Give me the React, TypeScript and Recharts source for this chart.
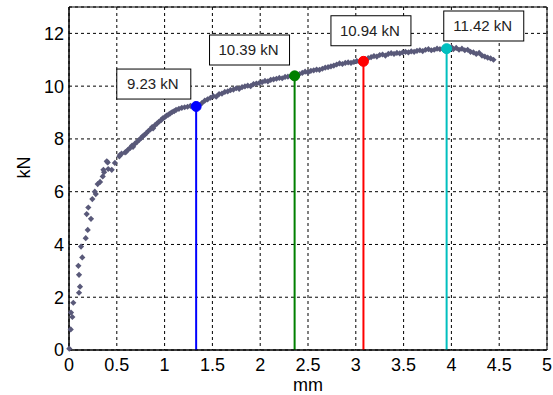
import React from "react";
import {
  ComposedChart,
  Scatter,
  XAxis,
  YAxis,
  CartesianGrid,
  ReferenceLine,
  ReferenceDot,
  ReferenceArea,
} from "recharts";

// measured curve (mm, kN)
const dispMm = [
  0.003, 0.018, 0.021, 0.035, 0.045, 0.105, 0.115, 0.105, 0.098, 0.139, 0.126, 0.175, 0.196, 0.23, 0.185,
  0.202, 0.244, 0.28, 0.27, 0.3, 0.325, 0.353, 0.367, 0.41, 0.405, 0.447, 0.48, 0.527, 0.55, 0.587,
  0.36, 0.395, 0.535,
  0.6, 0.62, 0.64, 0.66, 0.67, 0.69, 0.71, 0.73, 0.75, 0.77, 0.79, 0.81, 0.83, 0.85, 0.87, 0.88, 0.9,
  0.92, 0.94, 0.96, 0.98, 1.0, 1.02, 1.04, 1.06, 1.08, 1.1, 1.12, 1.15, 1.18, 1.21, 1.24, 1.27, 1.3, 1.33,
  1.36, 1.39, 1.42, 1.45, 1.48, 1.51, 1.54, 1.57, 1.6, 1.63, 1.66, 1.69, 1.72, 1.75, 1.78, 1.81, 1.84,
  1.87, 1.9, 1.93, 1.96, 1.99, 2.02, 2.05, 2.08, 2.11, 2.14, 2.17, 2.2, 2.23, 2.26, 2.29, 2.32,
  2.38, 2.41, 2.44, 2.47, 2.5, 2.53, 2.56, 2.59, 2.62, 2.65, 2.68, 2.71, 2.74, 2.77, 2.8, 2.83, 2.86,
  2.89, 2.92, 2.95, 2.98, 3.01, 3.04,
  3.1, 3.13, 3.16, 3.19, 3.22, 3.25, 3.28, 3.31, 3.34, 3.37, 3.4, 3.43, 3.46, 3.49, 3.52, 3.55, 3.58,
  3.61, 3.64, 3.67, 3.7, 3.73, 3.76, 3.79, 3.82, 3.85, 3.88, 3.91, 3.97, 4.0, 4.02, 4.05, 4.08, 4.11,
  4.14, 4.17, 4.2, 4.23, 4.26, 4.29, 4.32, 4.35, 4.38, 4.41, 4.44,
];
const forceKn = [
  0.05, 0.78, 1.42, 1.25, 1.79, 2.17, 2.4, 2.85, 3.19, 3.51, 3.92, 4.24, 4.55, 4.97, 5.15,
  5.4, 5.72, 5.91, 6.0, 6.29, 6.37, 6.58, 6.74, 6.86, 7.11, 6.83, 7.09, 7.34, 7.44, 7.49,
  6.83, 7.15, 7.4,
  7.52, 7.6, 7.66, 7.75, 7.7, 7.82, 7.88, 7.95, 8.02, 8.1, 8.15, 8.22, 8.3, 8.36, 8.45, 8.4, 8.52,
  8.58, 8.65, 8.7, 8.78, 8.82, 8.88, 8.92, 8.97, 9.02, 9.05, 9.1, 9.14, 9.18, 9.2, 9.22, 9.25, 9.22, 9.23,
  9.28, 9.36, 9.45, 9.5, 9.56, 9.62, 9.6, 9.7, 9.72, 9.78, 9.8, 9.85, 9.87, 9.92, 9.9, 9.96, 9.99,
  10.02, 10.0, 10.08, 10.1, 10.12, 10.15, 10.2, 10.18, 10.24, 10.26, 10.28, 10.31, 10.3, 10.35, 10.36, 10.38,
  10.42, 10.46, 10.5, 10.55, 10.52, 10.58, 10.6, 10.63, 10.62, 10.66, 10.7, 10.72, 10.75, 10.78, 10.82, 10.86, 10.84,
  10.88, 10.9, 10.88, 10.92, 10.95, 10.93,
  11.02, 11.06, 11.1, 11.14, 11.12, 11.18, 11.2, 11.16, 11.22, 11.25, 11.22, 11.26, 11.24, 11.28, 11.3, 11.28, 11.32,
  11.3, 11.34, 11.36, 11.33, 11.38, 11.4, 11.36, 11.38, 11.42, 11.4, 11.41, 11.44, 11.48, 11.4, 11.45, 11.38, 11.42,
  11.36, 11.38, 11.3, 11.28, 11.22, 11.26, 11.16, 11.12, 11.08, 11.05, 11.0,
];

// picked points with their labels
const pickX = [1.33, 2.36, 3.08, 3.95];
const pickY = [9.23, 10.39, 10.94, 11.42];
const pickText = ["9.23 kN", "10.39 kN", "10.94 kN", "11.42 kN"];
const pickColor = ["#0000ff", "#008000", "#ff0000", "#00bfbf"];
// label box anchor (left edge, middle) in data units
const boxX = [0.5, 1.47, 2.74, 3.92];
const boxY = [10.08, 11.37, 12.1, 12.28];

const xTicks = [0, 0.5, 1, 1.5, 2, 2.5, 3, 3.5, 4, 4.5, 5];
const yTicks = [0, 2, 4, 6, 8, 10, 12];

const points = dispMm.map((x, i) => ({ x, y: forceKn[i] }));

const FONT = "'Liberation Sans', Arial, sans-serif";

function Dot(props: any) {
  const { cx, cy } = props;
  if (cx == null || cy == null) return null;
  const r = 3.1;
  return (
    <path
      d={`M${cx - r},${cy} L${cx},${cy - r} L${cx + r},${cy} L${cx},${cy + r} Z`}
      fill="#595979"
    />
  );
}

function LabelBox({ cx, cy, text }: any) {
  const w = text.length * 6 + 32;
  return (
    <g>
      <rect x={cx} y={cy - 15} width={w} height={30} fill="#fff" stroke="#000" strokeWidth={1} />
      <text
        x={cx + w / 2 - 1}
        y={cy + 5}
        textAnchor="middle"
        fontSize={15}
        fontFamily={FONT}
        fill="#222"
      >
        {text}
      </text>
    </g>
  );
}

export default function App() {
  return (
    <div style={{ position: "absolute", left: 0, top: 0, background: "#fff" }}>
      <ComposedChart
        width={553}
        height={395}
        data={points}
        margin={{ top: 7, right: 6, bottom: 0, left: 0 }}
      >
        <CartesianGrid stroke="#000" strokeDasharray="3 3" strokeWidth={1} />
        <XAxis
          type="number"
          dataKey="x"
          domain={[0, 5]}
          ticks={xTicks}
          height={45}
          tickLine={false}
          axisLine={{ stroke: "#000" }}
          tick={{ fontSize: 18, fill: "#000", fontFamily: FONT }}
          tickMargin={2}
          label={{ value: "mm", position: "insideBottom", offset: 4, fontSize: 18, fill: "#000", fontFamily: FONT }}
        />
        <YAxis
          type="number"
          dataKey="y"
          domain={[0, 13]}
          ticks={yTicks}
          width={69}
          tickLine={false}
          tickSize={3}
          tickMargin={2}
          axisLine={{ stroke: "#000" }}
          tick={{ fontSize: 18, fill: "#000", fontFamily: FONT }}
          label={{ value: "kN", angle: -90, position: "insideLeft", offset: 24, fontSize: 18, fill: "#000", fontFamily: FONT }}
        />
        <ReferenceArea x1={0} x2={5} y1={0} y2={13} fill="none" stroke="#000" strokeWidth={1} />
        <Scatter data={points} shape={<Dot />} isAnimationActive={false} />
        {pickX.map((x, i) => (
          <ReferenceLine
            key={`l${i}`}
            segment={[
              { x, y: 0 },
              { x, y: pickY[i] },
            ]}
            stroke={pickColor[i]}
            strokeWidth={2}
          />
        ))}
        {pickX.map((x, i) => (
          <ReferenceDot key={`d${i}`} x={x} y={pickY[i]} r={5} fill={pickColor[i]} stroke={pickColor[i]} />
        ))}
        {boxX.map((x, i) => (
          <ReferenceDot
            key={`b${i}`}
            x={x}
            y={boxY[i]}
            r={0}
            shape={(p: any) => <LabelBox cx={p.cx} cy={p.cy} text={pickText[i]} />}
          />
        ))}
      </ComposedChart>
    </div>
  );
}
